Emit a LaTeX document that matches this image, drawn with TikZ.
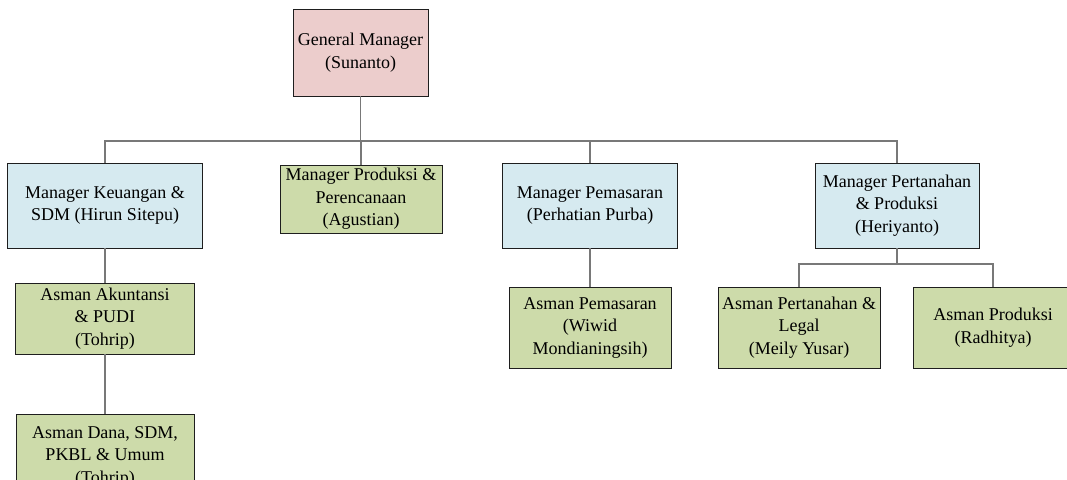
\documentclass[tikz,border=0pt]{standalone}
\usepackage{fontspec}
\setmainfont{Liberation Serif}
\definecolor{gmpink}{RGB}{236,205,204}
\definecolor{mgrblue}{RGB}{214,234,240}
\definecolor{asmgreen}{RGB}{205,219,170}
\definecolor{linkgrey}{RGB}{120,120,120}
\definecolor{boxedge}{RGB}{30,30,30}
\tikzset{
  unit/.style={draw=boxedge, line width=0.9pt, inner sep=0pt, align=center,
    font=\fontsize{18}{22.5}\selectfont},
  gmbox/.style={unit, fill=gmpink},
  mgrbox/.style={unit, fill=mgrblue},
  asmbox/.style={unit, fill=asmgreen},
  link/.style={draw=linkgrey, line width=1.2pt}
}
\begin{document}
\begin{tikzpicture}[x=1pt, y=-1pt]
\clip (0,0) rectangle (1067,479);
\fill[white] (0,0) rectangle (1067,479);

% top level
\node[gmbox, minimum width=135pt, minimum height=87pt] (gm) at (360.5,52.5)
  {General Manager\\(Sunanto)};

% managers
\node[mgrbox, minimum width=195pt, minimum height=85pt] (mk) at (105,205.5)
  {Manager Keuangan \&\\SDM (Hirun Sitepu)};
\node[asmbox, minimum width=162pt, minimum height=68pt] (mp) at (361,199)
  {Manager Produksi \&\\Perencanaan\\(Agustian)};
\node[mgrbox, minimum width=175pt, minimum height=85pt] (mpm) at (590,205.5)
  {Manager Pemasaran\\(Perhatian Purba)};
\node[mgrbox, minimum width=164pt, minimum height=85pt] (mpt) at (897,205.5)
  {Manager Pertanahan\\\& Produksi\\(Heriyanto)};

% assistant managers
\node[asmbox, minimum width=179pt, minimum height=71pt] (aa) at (105,318.5)
  {Asman Akuntansi\\\& PUDI\\(Tohrip)};
\node[asmbox, minimum width=178pt, minimum height=85pt] (ad) at (105,456.5)
  {Asman Dana, SDM,\\PKBL \& Umum\\(Tohrip)};
\node[asmbox, minimum width=162pt, minimum height=81pt] (ap) at (590,327.5)
  {Asman Pemasaran\\(Wiwid\\Mondianingsih)};
\node[asmbox, minimum width=162pt, minimum height=81pt] (apt) at (799,327.5)
  {Asman Pertanahan \&\\Legal\\(Meily Yusar)};
\node[asmbox, minimum width=160pt, minimum height=81pt] (apr) at (993,327.5)
  {Asman Produksi\\(Radhitya)};

% bus lines
\coordinate (bus) at (0,141);
\coordinate (subbus) at (0,264);

\draw[link] (gm.south) -- (gm.south |- bus);
\draw[link] (mk.north) -- (mk.north |- bus) -| (mpt.north);
\draw[link] (mp.north) -- (mp.north |- bus);
\draw[link] (mpm.north) -- (mpm.north |- bus);

\draw[link] (mk.south) -- (aa.north);
\draw[link] (aa.south) -- (ad.north);
\draw[link] (mpm.south) -- (ap.north);

\draw[link] (mpt.south) -- (mpt.south |- subbus);
\draw[link] (apt.north) -- (apt.north |- subbus) -| (apr.north);
\end{tikzpicture}
\end{document}
